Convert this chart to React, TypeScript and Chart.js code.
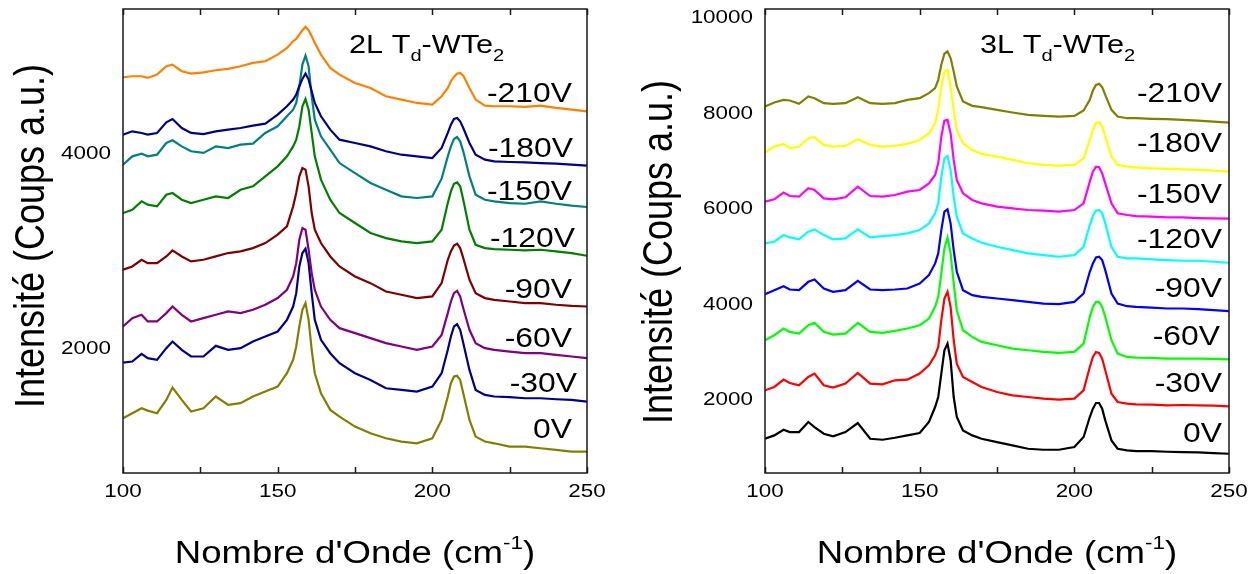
import React, { useEffect, useRef } from 'react';
import { Chart, registerables } from 'chart.js';

Chart.register(...registerables);

// ---------- data ----------
const wavenumbers = [100, 103, 106, 108, 111, 114, 116, 119, 122, 126, 130, 134, 138, 142, 146, 150, 153, 155, 156, 157, 158, 159, 160, 161, 162, 164, 167, 170, 175, 180, 185, 190, 195, 200, 203, 205, 206, 207, 208, 209, 210, 212, 214, 217, 220, 225, 230, 235, 240, 245, 250];

// 2L Td-WTe2
const bi_m210 = [4777, 4787, 4787, 4770, 4804, 4890, 4907, 4839, 4815, 4828, 4849, 4863, 4890, 4925, 4942, 5010, 5079, 5148, 5172, 5217, 5261, 5296, 5261, 5200, 5131, 5010, 4873, 4804, 4718, 4667, 4581, 4547, 4512, 4495, 4581, 4667, 4736, 4780, 4815, 4821, 4794, 4667, 4547, 4485, 4478, 4478, 4471, 4485, 4461, 4443, 4426];
const bi_m180 = [4186, 4220, 4203, 4186, 4203, 4313, 4347, 4254, 4203, 4192, 4220, 4237, 4254, 4278, 4299, 4392, 4478, 4547, 4598, 4684, 4760, 4815, 4753, 4632, 4512, 4375, 4237, 4134, 4100, 4065, 4014, 3979, 3962, 3945, 4048, 4203, 4289, 4347, 4357, 4323, 4254, 4100, 3979, 3928, 3911, 3904, 3900, 3893, 3887, 3876, 3866];
const bi_m150 = [3876, 3962, 3990, 3962, 3979, 4100, 4127, 4065, 4014, 3997, 4065, 4048, 4083, 4093, 4203, 4272, 4375, 4443, 4512, 4684, 4907, 5000, 4890, 4581, 4340, 4168, 4031, 3893, 3790, 3687, 3618, 3550, 3533, 3550, 3732, 3962, 4065, 4141, 4161, 4117, 4014, 3756, 3567, 3515, 3498, 3481, 3474, 3498, 3474, 3454, 3440];
const bi_m120 = [3378, 3412, 3498, 3464, 3447, 3567, 3584, 3515, 3481, 3515, 3550, 3533, 3618, 3653, 3756, 3859, 3962, 4065, 4134, 4272, 4478, 4553, 4443, 4203, 3962, 3722, 3515, 3378, 3275, 3172, 3120, 3086, 3069, 3086, 3206, 3481, 3601, 3680, 3694, 3653, 3515, 3206, 3051, 3017, 3007, 3000, 2993, 3000, 2983, 2965, 2938];
const bi_m90 = [2794, 2828, 2897, 2862, 2862, 2931, 2993, 2931, 2880, 2897, 2931, 2966, 2983, 3017, 3069, 3155, 3240, 3447, 3584, 3756, 3842, 3825, 3653, 3378, 3206, 3069, 2931, 2828, 2725, 2656, 2570, 2536, 2502, 2519, 2656, 2897, 2983, 3044, 3062, 3017, 2914, 2691, 2553, 2502, 2484, 2467, 2450, 2450, 2433, 2422, 2415];
const bi_m60 = [2209, 2295, 2330, 2261, 2261, 2347, 2415, 2330, 2261, 2295, 2330, 2364, 2347, 2381, 2433, 2502, 2587, 2725, 2862, 3103, 3223, 3206, 3000, 2759, 2587, 2415, 2278, 2192, 2141, 2089, 2038, 2003, 1969, 2003, 2123, 2347, 2467, 2553, 2577, 2519, 2398, 2175, 2038, 1986, 1969, 1951, 1934, 1934, 1917, 1900, 1883];
const bi_m30 = [1838, 1848, 1928, 1883, 1866, 1986, 2055, 1969, 1900, 1900, 2010, 1969, 1986, 2055, 2106, 2158, 2278, 2415, 2553, 2828, 2966, 3010, 2862, 2553, 2278, 2072, 1934, 1831, 1728, 1659, 1573, 1556, 1539, 1591, 1728, 1969, 2106, 2209, 2233, 2175, 2038, 1762, 1556, 1505, 1488, 1481, 1470, 1470, 1460, 1453, 1436];
const bi_0 = [1264, 1316, 1367, 1343, 1316, 1453, 1580, 1453, 1333, 1367, 1488, 1402, 1419, 1488, 1539, 1591, 1728, 1866, 2003, 2209, 2381, 2450, 2278, 1969, 1728, 1522, 1350, 1281, 1178, 1110, 1058, 1024, 1006, 1058, 1247, 1488, 1625, 1694, 1701, 1659, 1522, 1247, 1075, 1024, 1006, 972, 972, 955, 938, 920, 920];

// 3L Td-WTe2
const tri_m210 = [8117, 8201, 8257, 8243, 8173, 8327, 8292, 8187, 8173, 8187, 8313, 8187, 8173, 8187, 8257, 8292, 8397, 8502, 8676, 8991, 9222, 9271, 9131, 8851, 8537, 8222, 8131, 8103, 8047, 7991, 7942, 7921, 7907, 7921, 8033, 8257, 8452, 8571, 8592, 8523, 8362, 8047, 7907, 7872, 7872, 7858, 7851, 7837, 7823, 7802, 7781];
const tri_m180 = [7152, 7278, 7334, 7243, 7278, 7452, 7473, 7313, 7278, 7292, 7431, 7313, 7278, 7292, 7334, 7417, 7558, 7767, 8047, 8537, 8851, 8886, 8537, 8047, 7627, 7348, 7208, 7124, 7068, 6998, 6928, 6893, 6879, 6893, 7033, 7417, 7627, 7767, 7788, 7697, 7487, 7068, 6893, 6858, 6844, 6823, 6809, 6802, 6788, 6774, 6753];
const tri_m150 = [6124, 6173, 6313, 6242, 6228, 6404, 6368, 6194, 6173, 6215, 6438, 6242, 6228, 6263, 6333, 6368, 6508, 6683, 6928, 7487, 7823, 7837, 7558, 6998, 6578, 6299, 6159, 6089, 6019, 5984, 5949, 5935, 5914, 5949, 6089, 6543, 6753, 6858, 6844, 6718, 6508, 6089, 5879, 5844, 5823, 5809, 5795, 5795, 5781, 5774, 5767];
const tri_m120 = [5249, 5284, 5424, 5375, 5333, 5494, 5543, 5424, 5333, 5354, 5543, 5375, 5403, 5424, 5459, 5529, 5669, 5879, 6089, 6648, 7033, 7082, 6788, 6229, 5809, 5459, 5354, 5263, 5179, 5110, 5040, 5004, 4970, 5004, 5179, 5634, 5823, 5935, 5949, 5879, 5669, 5179, 4970, 4935, 4935, 4914, 4900, 4886, 4886, 4865, 4844];
const tri_m90 = [4186, 4270, 4354, 4284, 4270, 4445, 4494, 4305, 4235, 4270, 4466, 4284, 4270, 4284, 4305, 4410, 4585, 4830, 5040, 5529, 5914, 5963, 5669, 5110, 4655, 4270, 4165, 4130, 4095, 4060, 4025, 3990, 3976, 4025, 4200, 4655, 4830, 4956, 4970, 4900, 4690, 4200, 3990, 3934, 3920, 3906, 3886, 3886, 3871, 3850, 3829];
const tri_m60 = [3221, 3326, 3466, 3396, 3361, 3536, 3585, 3396, 3340, 3361, 3585, 3396, 3375, 3417, 3466, 3536, 3676, 3920, 4130, 4620, 5145, 5375, 5040, 4410, 3850, 3431, 3291, 3186, 3116, 3046, 3011, 2976, 2955, 2976, 3151, 3711, 3920, 4025, 4025, 3920, 3711, 3221, 2941, 2871, 2857, 2850, 2836, 2836, 2836, 2829, 2822];
const tri_m30 = [2172, 2242, 2396, 2326, 2277, 2452, 2522, 2277, 2228, 2312, 2536, 2312, 2298, 2382, 2396, 2522, 2697, 2907, 3081, 3641, 4095, 4235, 3920, 3221, 2732, 2452, 2347, 2242, 2137, 2067, 2032, 1997, 1976, 1997, 2172, 2662, 2872, 2976, 2955, 2836, 2592, 2102, 1927, 1892, 1878, 1871, 1857, 1864, 1857, 1850, 1836];
const tri_0 = [1158, 1228, 1347, 1298, 1298, 1508, 1403, 1263, 1207, 1298, 1487, 1158, 1137, 1179, 1228, 1277, 1508, 1822, 2032, 2522, 3011, 3151, 2802, 2032, 1613, 1333, 1228, 1158, 1088, 1018, 948, 927, 927, 983, 1193, 1613, 1788, 1906, 1906, 1788, 1543, 1123, 948, 913, 899, 899, 885, 878, 871, 857, 843];

const voltageLabels = ['-210V', '-180V', '-150V', '-120V', '-90V', '-60V', '-30V', '0V'];
const biSeries = [bi_m210, bi_m180, bi_m150, bi_m120, bi_m90, bi_m60, bi_m30, bi_0];
const triSeries = [tri_m210, tri_m180, tri_m150, tri_m120, tri_m90, tri_m60, tri_m30, tri_0];

const xTickValues = [100, 125, 150, 175, 200, 225, 250];
const xLabelValues = [100, 150, 200, 250];
const biYTicks = [2000, 4000];
const triYTicks = [2000, 4000, 6000, 8000, 10000];

// ---------- styles ----------
const biColors = ['#FF8000', '#00008B', '#008080', '#008000', '#800000', '#800080', '#00008B', '#808000'];
const triColors = ['#808000', '#FFFF00', '#FF00FF', '#00FFFF', '#0000FF', '#00FF00', '#FF0000', '#000000'];

const FONT = '"Liberation Sans", Arial, Helvetica, sans-serif';
const SX = 1.18; // horizontal stretch of the original figure's lettering
const TICK_FONT = 19;

type Seg = { t: string; size: number; dy: number };

function drawText(ctx: CanvasRenderingContext2D, text: string, x: number, y: number, size: number, align: CanvasTextAlign) {
  ctx.save();
  ctx.translate(x, y);
  ctx.scale(SX, 1);
  ctx.font = `${size}px ${FONT}`;
  ctx.textAlign = align;
  ctx.textBaseline = 'alphabetic';
  ctx.fillText(text, 0, 0);
  ctx.restore();
}

function segWidth(ctx: CanvasRenderingContext2D, segs: Seg[]) {
  let w = 0;
  for (const s of segs) {
    ctx.font = `${s.size}px ${FONT}`;
    w += ctx.measureText(s.t).width;
  }
  return w;
}

function drawRich(ctx: CanvasRenderingContext2D, segs: Seg[], x: number, y: number, centred: boolean, rotate = false) {
  ctx.save();
  ctx.translate(x, y);
  ctx.scale(SX, 1);
  if (rotate) ctx.rotate(-Math.PI / 2);
  ctx.textBaseline = 'alphabetic';
  ctx.textAlign = 'left';
  const w = segWidth(ctx, segs);
  let cx = centred ? -w / 2 : 0;
  for (const s of segs) {
    ctx.font = `${s.size}px ${FONT}`;
    ctx.fillText(s.t, cx, s.dy);
    cx += ctx.measureText(s.t).width;
  }
  ctx.restore();
}

type PanelSpec = {
  id: string;
  series: number[][];
  colors: string[];
  yMin: number;
  yMax: number;
  yTicks: number[];
  yAxisWidth: number;
  padRight: number;
  title: Seg[];
  titleX: number;
  labelRight: number[];
  labelBase: number[];
  yTitleX: number;
  yTitleY: number;
};

const axisTitleY: Seg[] = [{ t: 'Intensité (Coups a.u.)', size: 36, dy: 0 }];
const axisTitleX: Seg[] = [
  { t: "Nombre d'Onde (cm", size: 31, dy: 0 },
  { t: '-1', size: 19, dy: -14 },
  { t: ')', size: 31, dy: 0 },
];

const panels: PanelSpec[] = [
  {
    id: 'bi',
    series: biSeries,
    colors: biColors,
    yMin: 700,
    yMax: 5480,
    yTicks: biYTicks,
    yAxisWidth: 123,
    padRight: 42,
    title: [
      { t: '2L T', size: 26, dy: 0 },
      { t: 'd', size: 17, dy: 8 },
      { t: '-WTe', size: 26, dy: 0 },
      { t: '2', size: 17, dy: 8 },
    ],
    titleX: 349,
    labelRight: [572, 573, 572, 575, 572, 572, 577, 572],
    labelBase: [102, 157, 200, 247, 298, 347, 392, 438],
    yTitleX: 44,
    yTitleY: 236,
  },
  {
    id: 'tri',
    series: triSeries,
    colors: triColors,
    yMin: 440,
    yMax: 10160,
    yTicks: triYTicks,
    yAxisWidth: 136,
    padRight: 29,
    title: [
      { t: '3L T', size: 26, dy: 0 },
      { t: 'd', size: 17, dy: 8 },
      { t: '-WTe', size: 26, dy: 0 },
      { t: '2', size: 17, dy: 8 },
    ],
    titleX: 980 - 629,
    labelRight: [1222 - 629, 1222 - 629, 1222 - 629, 1222 - 629, 1222 - 629, 1220 - 629, 1222 - 629, 1222 - 629],
    labelBase: [102, 152, 203, 248, 297, 345, 392, 442],
    yTitleX: 43,
    yTitleY: 252,
  },
];

function makePlugin(p: PanelSpec) {
  return {
    id: 'annot_' + p.id,
    afterDraw(chart: any) {
      const ctx: CanvasRenderingContext2D = chart.ctx;
      const a = chart.chartArea;
      const xs = chart.scales.x;
      const ys = chart.scales.y;
      ctx.save();
      ctx.fillStyle = '#000';
      ctx.strokeStyle = '#1a1a1a';
      ctx.lineWidth = 1.5;
      ctx.strokeRect(a.left, a.top, a.right - a.left, a.bottom - a.top);
      ctx.beginPath();
      for (const t of xTickValues) {
        const px = Math.round(xs.getPixelForValue(t)) + 0.5;
        ctx.moveTo(px, a.top);
        ctx.lineTo(px, a.top + 6);
        ctx.moveTo(px, a.bottom);
        ctx.lineTo(px, a.bottom - 6);
      }
      ctx.stroke();
      const digitH = TICK_FONT * 0.716;
      for (const t of xLabelValues) {
        drawText(ctx, String(t), xs.getPixelForValue(t), a.bottom + 10 + digitH, TICK_FONT, 'center');
      }
      for (const v of p.yTicks) {
        drawText(ctx, String(v), a.left - 12, ys.getPixelForValue(v) + digitH / 2, TICK_FONT, 'right');
      }
      drawRich(ctx, p.title, p.titleX, 53, false);
      voltageLabels.forEach((lab, i) => {
        drawText(ctx, lab, p.labelRight[i], p.labelBase[i], 27, 'right');
      });
      drawRich(ctx, axisTitleX, (a.left + a.right) / 2, 563, true);
      drawRich(ctx, axisTitleY, p.yTitleX, p.yTitleY, true, true);
      ctx.restore();
    },
  };
}

function Panel({ spec, left }: { spec: PanelSpec; left: number }) {
  const ref = useRef<HTMLCanvasElement | null>(null);
  useEffect(() => {
    if (!ref.current) return;
    const datasets = spec.series.map((ys, i) => ({
      label: voltageLabels[i],
      data: wavenumbers.map((x, j) => ({ x, y: ys[j] })),
      borderColor: spec.colors[i],
      backgroundColor: spec.colors[i],
      borderWidth: 2.2,
      pointRadius: 0,
      tension: 0,
      fill: false,
    }));
    const chart = new Chart(ref.current, {
      type: 'line',
      data: { datasets },
      options: {
        animation: false,
        responsive: false,
        devicePixelRatio: 1,
        layout: { padding: { left: 0, top: 9, right: spec.padRight, bottom: 0 } },
        plugins: { legend: { display: false }, tooltip: { enabled: false }, title: { display: false } },
        scales: {
          x: {
            type: 'linear',
            min: 100,
            max: 250,
            grid: { display: false },
            border: { display: false },
            ticks: { display: false },
            afterFit: (s: any) => {
              s.height = 101;
            },
          },
          y: {
            type: 'linear',
            min: spec.yMin,
            max: spec.yMax,
            grid: { display: false },
            border: { display: false },
            ticks: { display: false },
            afterFit: (s: any) => {
              s.width = spec.yAxisWidth;
            },
          },
        },
      },
      plugins: [makePlugin(spec)],
    } as any);
    return () => chart.destroy();
  }, [spec]);
  return (
    <canvas
      ref={ref}
      width={629}
      height={574}
      style={{ position: 'absolute', left, top: 0, width: 629, height: 574 }}
    />
  );
}

export default function App() {
  return (
    <div style={{ position: 'fixed', left: 0, top: 0, width: 1258, height: 574, background: '#fff' }}>
      <Panel spec={panels[0]} left={0} />
      <Panel spec={panels[1]} left={629} />
    </div>
  );
}
